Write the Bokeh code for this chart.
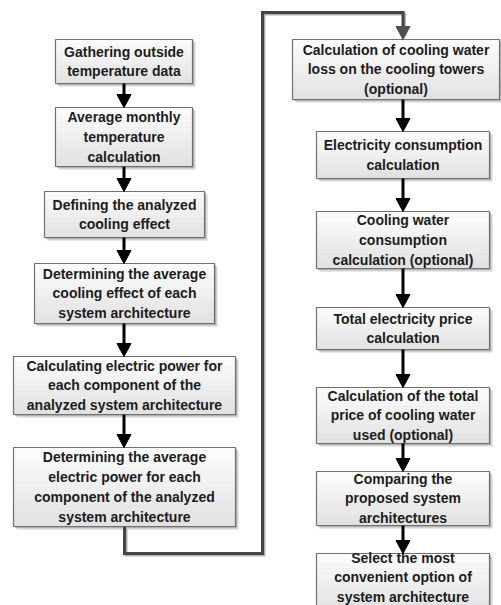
from bokeh.plotting import figure
from bokeh.models import Range1d
from bokeh.embed import file_html
from bokeh.resources import INLINE
from bokeh.core.properties import value

# ---- content (box labels) ----
left_labels = [
    "Gathering outside\ntemperature data",
    "Average monthly\ntemperature\ncalculation",
    "Defining the analyzed\ncooling effect",
    "Determining the average\ncooling effect of each\nsystem architecture",
    "Calculating electric power for\neach component of the\nanalyzed system architecture",
    "Determining the average\nelectric power for each\ncomponent of the analyzed\nsystem architecture",
]
right_labels = [
    "Calculation of cooling water\nloss on the cooling towers\n(optional)",
    "Electricity consumption\ncalculation",
    "Cooling water\nconsumption\ncalculation (optional)",
    "Total electricity price\ncalculation",
    "Calculation of the total\nprice of cooling water\nused (optional)",
    "Comparing the\nproposed system\narchitectures",
    "Select the most\nconvenient option of\nsystem architecture",
]

# ---- layout (page pixel coordinates) ----
left_x0 = [55, 55, 44, 34, 13, 13]
left_x1 = [192, 192, 204, 214, 235, 235]
left_y0 = [39, 107, 191, 263, 356, 447]
left_y1 = [83, 166, 237, 323, 414, 526]

right_x0 = [292, 316, 316, 316, 316, 316, 316]
right_x1 = [499, 489, 489, 489, 489, 489, 489]
right_y0 = [39, 131, 211, 307, 387, 471, 553]
right_y1 = [99, 178, 268, 349, 443, 525, 601]

W, H = 501, 605
p = figure(width=W, height=H, output_backend="svg", toolbar_location=None,
           x_range=Range1d(0, W), y_range=Range1d(H, 0),
           min_border=0, outline_line_color=None, background_fill_color="white")
p.axis.visible = False
p.grid.visible = False

labels = left_labels + right_labels
x0s = left_x0 + right_x0
x1s = left_x1 + right_x1
y0s = left_y0 + right_y0
y1s = left_y1 + right_y1
# last box runs off the bottom edge of the picture
y1_draw = y1s[:-1] + [612]

# shadows
p.quad(left=[a + 3 for a in x0s], right=[b + 3 for b in x1s],
       top=[c + 3 for c in y0s], bottom=[d + 3 for d in y1_draw],
       fill_color="#c8c8c8", line_color=None, fill_alpha=0.8)
p.quad(left=[a + 1.5 for a in x0s], right=[b + 1.5 for b in x1s],
       top=[c + 1.5 for c in y0s], bottom=[d + 1.5 for d in y1_draw],
       fill_color="#a8a8a8", line_color=None, fill_alpha=0.8)

# gradient fill via strips
n = 12
top_rgb = (252, 252, 252)
bot_rgb = (226, 226, 226)
sl, sr, st, sb, sc = [], [], [], [], []
for a, b, c, d in zip(x0s, x1s, y0s, y1_draw):
    h = (d - c) / n
    for k in range(n):
        t = k / (n - 1)
        rgb = tuple(int(round(top_rgb[i] + (bot_rgb[i] - top_rgb[i]) * t)) for i in range(3))
        sl.append(a); sr.append(b)
        st.append(c + k * h); sb.append(c + (k + 1) * h + 0.5)
        sc.append("#%02x%02x%02x" % rgb)
p.quad(left=sl, right=sr, top=st, bottom=sb, fill_color=sc, line_color=None)

# borders
p.quad(left=x0s, right=x1s, top=y0s, bottom=y1_draw, fill_color=None,
       line_color="#707070", line_width=1.2)

# texts
p.text(x=[(a + b) / 2 for a, b in zip(x0s, x1s)],
       y=[(c + d) / 2 for c, d in zip(y0s, y1s)],
       text=labels, text_align="center", text_baseline="middle",
       text_font=value("Liberation Sans"), text_font_style="bold",
       text_font_size="14px", text_color="#1c1c1c", text_line_height=1.24)

# arrows between consecutive boxes
head_h, head_w = 13, 7
sx0, sy0, sx1, sy1 = [], [], [], []
hx, hy = [], []
for (xa, xb, ya, yb) in [(left_x0, left_x1, left_y0, left_y1),
                         (right_x0, right_x1, right_y0, right_y1)]:
    cx = (xa[1] + xb[1]) / 2
    for i in range(len(ya) - 1):
        sx0.append(cx); sx1.append(cx)
        sy0.append(yb[i]); sy1.append(ya[i + 1] - head_h + 2)
        hx.append([cx - head_w, cx + head_w, cx])
        hy.append([ya[i + 1] - head_h, ya[i + 1] - head_h, ya[i + 1]])
p.segment(x0=sx0, y0=sy0, x1=sx1, y1=sy1, line_color="black", line_width=3)
p.patches(xs=hx, ys=hy, fill_color="black", line_color="black", line_width=1)

# connector from left column to right column
lcx = (left_x0[-1] + left_x1[-1]) / 2
rcx = (right_x0[1] + right_x1[1]) / 2
bend_y = 553
route_x = 262
top_y = 12
cx_path = [lcx, lcx, route_x, route_x, rcx, rcx]
cy_path = [left_y1[-1], bend_y, bend_y, top_y, top_y, right_y0[0] - head_h + 2]
p.line([v + 1.5 for v in cx_path], [v + 1.5 for v in cy_path],
       line_color="#b0b0b0", line_width=3, line_join="miter")
p.line(cx_path, cy_path, line_color="#444444", line_width=3, line_join="miter")
p.patch([rcx - head_w, rcx + head_w, rcx],
        [right_y0[0] - head_h, right_y0[0] - head_h, right_y0[0]],
        fill_color="#505050", line_color="#505050")

open("out.html", "w").write(file_html(p, INLINE))
